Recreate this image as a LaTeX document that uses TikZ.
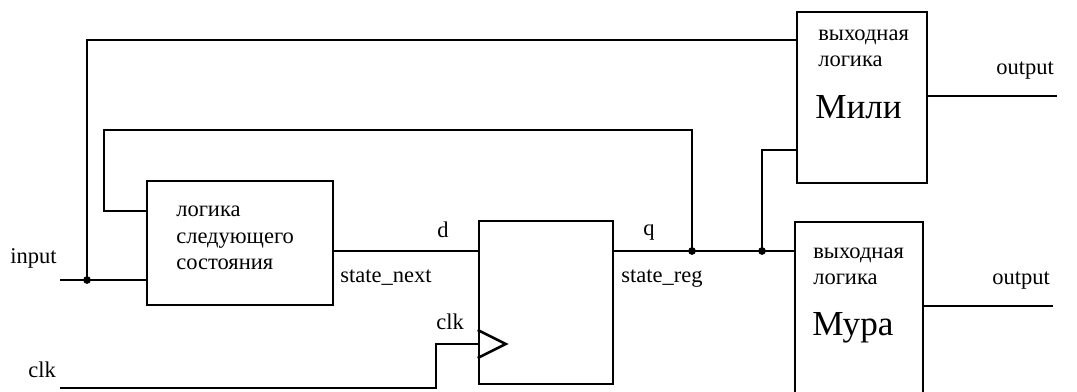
\documentclass[tikz,border=0pt]{standalone}
\usepackage{fontspec}
\setmainfont{Liberation Serif}
\usetikzlibrary{positioning}
\begin{document}
\begin{tikzpicture}[x=0.025cm, y=-0.025cm,
  blk/.style={draw, line width=1.8pt, inner sep=0pt},
  txt/.style={font=\fontsize{16}{19}\selectfont, anchor=base west, inner sep=0pt, align=left},
  big/.style={font=\fontsize{25}{30}\selectfont, anchor=base west, inner sep=0pt},
  wire/.style={line width=1.8pt},
  dot/.style={circle, fill, inner sep=0pt, minimum size=5.5pt}]
\useasboundingbox (0,0) rectangle (1077,392);
% blocks
\node[blk, minimum width=4.65cm, minimum height=3.1cm] (nsl) at (240,243) {};
\node[blk, minimum width=3.35cm, minimum height=4.075cm] (ff) at (546,302.5) {};
\node[blk, minimum width=3.25cm, minimum height=4.275cm] (mealy) at (862,97.5) {};
\node[blk, minimum width=3.2cm, minimum height=4.95cm] (moore) at (859,321) {};
\node[txt] (nslTxt) at (176,270) {логика\\следующего\\состояния};
\node[txt] (mlyTxt) at (818,67) {выходная\\логика};
\node[big] (mlyName) at (815,119) {Мили};
\node[txt] (mrTxt) at (813,285) {выходная\\логика};
\node[big] (mrName) at (812,335) {Мура};
% labels
\node[txt] (lIn) at (10,264) {input};
\node[txt] (lClk) at (28,377) {clk};
\node[txt] (lD) at (437,238) {d};
\node[txt] (lNext) at (340,283) {state\_next};
\node[txt] (lClkFF) at (436,330) {clk};
\node[txt] (lQ) at (643,236) {q};
\node[txt] (lReg) at (621,283) {state\_reg};
\node[txt] (lOutM) at (996,75) {output};
\node[txt] (lOutR) at (992,285) {output};
% wires
\coordinate (inL) at (60,280); \coordinate (jIn) at (87,280); \coordinate (topY) at (87,40);
\coordinate (fbTop) at (104,130); \coordinate (fbIn) at (104,211);
\coordinate (dY) at (400,251); \coordinate (qY) at (700,251);
\coordinate (jQ) at (692,251); \coordinate (jM) at (762,251);
\coordinate (clkIn) at (60,388); \coordinate (clkB) at (436,344);
\coordinate (mlyIn) at (780,150); \coordinate (outM) at (1057,96); \coordinate (outR) at (1053,306);
\draw[wire] (inL) -- (inL -| nsl.west);
\draw[wire] (jIn) -- (topY) -- (topY -| mealy.west);
\draw[wire] (jQ) |- (fbTop) |- (fbIn -| nsl.west);
\draw[wire] (dY -| nsl.east) -- (dY -| ff.west);
\draw[wire] (clkIn) -| (clkB) -- (clkB -| ff.west);
\draw[wire] (clkB -| ff.west) ++(0,-14) -- ++(28,14) -- ++(-28,14);
\draw[wire] (qY -| ff.east) -- (qY -| moore.west);
\draw[wire] (jM) |- (mlyIn -| mealy.west);
\draw[wire] (outM -| mealy.east) -- (outM);
\draw[wire] (outR -| moore.east) -- (outR);
\node[dot] (dIn) at (jIn) {}; \node[dot] (dQ) at (jQ) {}; \node[dot] (dM) at (jM) {};
\end{tikzpicture}
\end{document}
